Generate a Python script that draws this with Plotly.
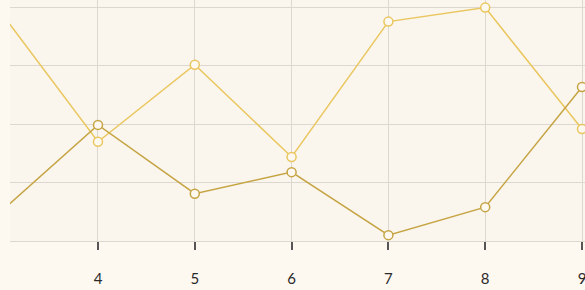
import plotly.graph_objects as go

x_vals = [3, 4, 5, 6, 7, 8, 9]
series_a = [39.1, 17.0, 30.2, 14.4, 37.6, 40.0, 19.2]
series_b = [5.1, 19.9, 8.1, 11.8, 1.0, 5.8, 26.4]
tick_vals = [4, 5, 6, 7, 8, 9]
tick_text = ["4", "5", "6", "7", "8", "9"]

fig = go.Figure()
fig.add_trace(go.Scatter(
    x=x_vals, y=series_a, mode="lines+markers", name="A",
    line=dict(color="#eac65e", width=1.5),
    marker=dict(symbol="circle", size=9, color="#fdf9f0",
                line=dict(color="#eac65e", width=1.5)),
))
fig.add_trace(go.Scatter(
    x=x_vals, y=series_b, mode="lines+markers", name="B",
    line=dict(color="#c6a444", width=1.5),
    marker=dict(symbol="circle", size=9, color="#fdf9f0",
                line=dict(color="#c6a444", width=1.5)),
))

fig.update_layout(
    width=585, height=290,
    margin=dict(l=10, r=0, t=0, b=49),
    paper_bgcolor="#fdf8f0",
    plot_bgcolor="#faf6ed",
    showlegend=False,
    font=dict(family="Lato, sans-serif", size=15, color="#2a2a2a"),
)
fig.update_xaxes(
    range=[3.091, 9.031],
    tickvals=tick_vals, ticktext=tick_text,
    showgrid=True, gridcolor="#dcd7cf", gridwidth=1.2,
    ticks="outside", ticklen=8, tickwidth=1.5, tickcolor="#555555",
    showline=True, linecolor="#dcd7cf", linewidth=1.2,
    zeroline=False, ticklabelstandoff=16, ticklabeloverflow="allow",
)
fig.update_yaxes(
    range=[0, 41.3], dtick=10, tick0=0,
    showgrid=True, gridcolor="#dcd7cf", gridwidth=1.2,
    showticklabels=False, zeroline=False,
)

fig.write_html(
    "out.html",
    config={"displayModeBar": False},
    post_script="document.body.style.margin='0';document.body.style.background='#fdf8f0';",
)
